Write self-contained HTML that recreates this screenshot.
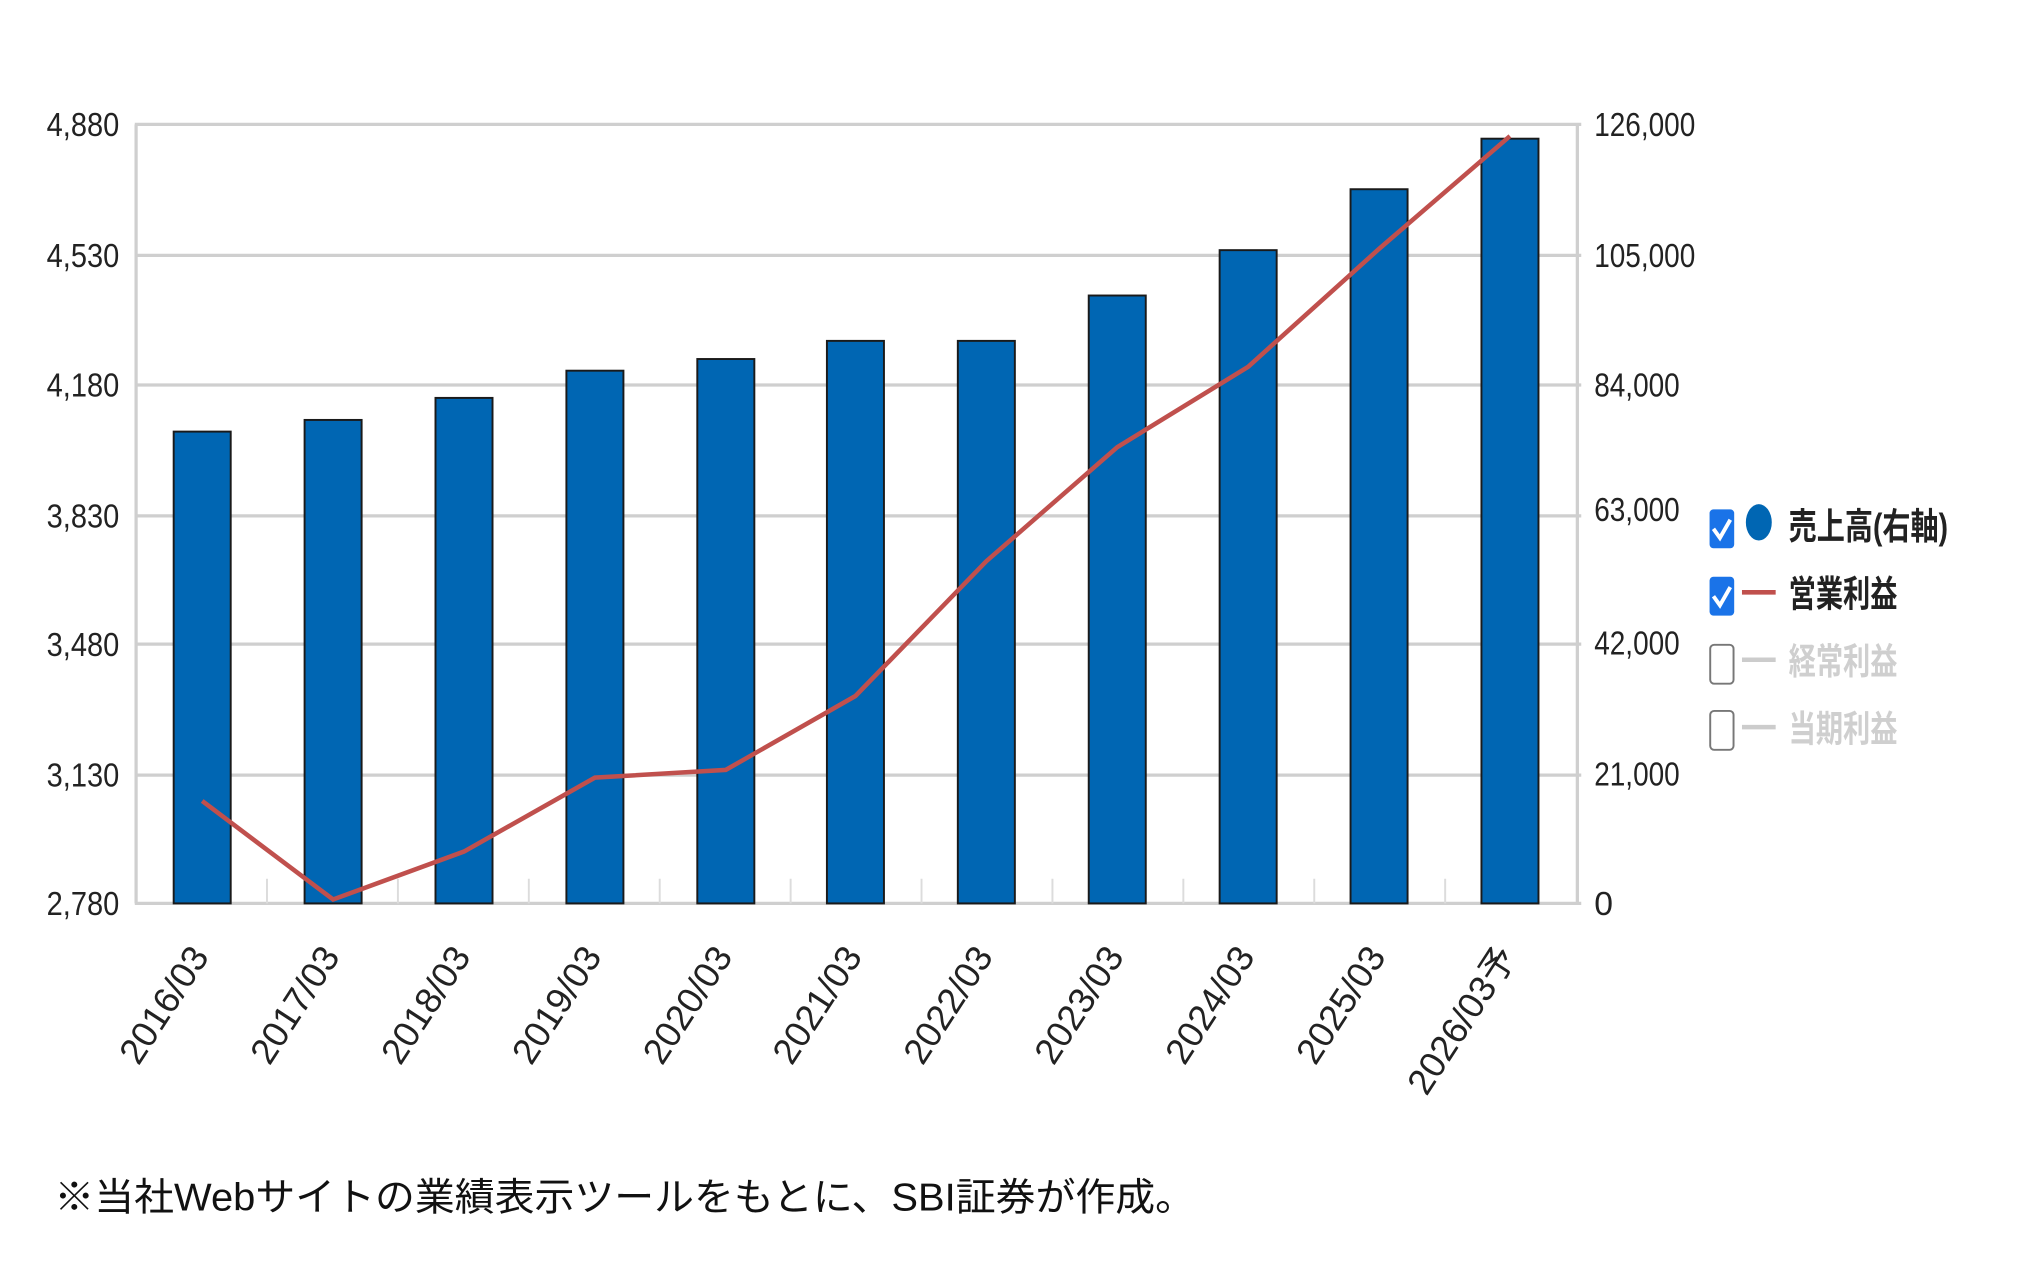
<!DOCTYPE html>
<html><head><meta charset="utf-8"><style>
html,body{margin:0;padding:0;background:#fff;}
svg{display:block;}
</style></head><body>
<svg width="2031" height="1265" viewBox="0 0 1567 976" preserveAspectRatio="none" xmlns="http://www.w3.org/2000/svg">
<g stroke="#cfcfcf" stroke-width="2.5">
<line x1="104" y1="96" x2="1220" y2="96"/>
<line x1="104" y1="197" x2="1220" y2="197"/>
<line x1="104" y1="297" x2="1220" y2="297"/>
<line x1="104" y1="398" x2="1220" y2="398"/>
<line x1="104" y1="497" x2="1220" y2="497"/>
<line x1="104" y1="598" x2="1220" y2="598"/>
<line x1="104" y1="697" x2="1220" y2="697"/>
<line x1="105" y1="96" x2="105" y2="697"/>
<line x1="1217" y1="96" x2="1217" y2="697"/>
</g>
<g stroke="#dcdcdc" stroke-width="1.5">
<line x1="206" y1="678" x2="206" y2="697"/><line x1="307" y1="678" x2="307" y2="697"/><line x1="408" y1="678" x2="408" y2="697"/><line x1="509" y1="678" x2="509" y2="697"/><line x1="610" y1="678" x2="610" y2="697"/><line x1="711" y1="678" x2="711" y2="697"/><line x1="812" y1="678" x2="812" y2="697"/><line x1="913" y1="678" x2="913" y2="697"/><line x1="1014" y1="678" x2="1014" y2="697"/><line x1="1115" y1="678" x2="1115" y2="697"/>
</g>
<g fill="#0066b3" stroke="#1a1a1a" stroke-width="1.5">
<rect x="134" y="333" width="44" height="364"/>
<rect x="235" y="324" width="44" height="373"/>
<rect x="336" y="307" width="44" height="390"/>
<rect x="437" y="286" width="44" height="411"/>
<rect x="538" y="277" width="44" height="420"/>
<rect x="638" y="263" width="44" height="434"/>
<rect x="739" y="263" width="44" height="434"/>
<rect x="840" y="228" width="44" height="469"/>
<rect x="941" y="193" width="44" height="504"/>
<rect x="1042" y="146" width="44" height="551"/>
<rect x="1143" y="107" width="44" height="590"/>
</g>
<polyline fill="none" stroke="#c0504d" stroke-width="3.5" points="156,618 257,694 358,657 459,600 560,594 660,537 761,433 862,345 963,283 1064,192 1165,105"/>
<g font-family="'Liberation Sans',sans-serif" font-size="26" fill="#222" text-anchor="end">
<text x="92" y="105" textLength="56" lengthAdjust="spacingAndGlyphs">4,880</text>
<text x="92" y="206" textLength="56" lengthAdjust="spacingAndGlyphs">4,530</text>
<text x="92" y="306" textLength="56" lengthAdjust="spacingAndGlyphs">4,180</text>
<text x="92" y="407" textLength="56" lengthAdjust="spacingAndGlyphs">3,830</text>
<text x="92" y="506" textLength="56" lengthAdjust="spacingAndGlyphs">3,480</text>
<text x="92" y="607" textLength="56" lengthAdjust="spacingAndGlyphs">3,130</text>
<text x="92" y="706" textLength="56" lengthAdjust="spacingAndGlyphs">2,780</text>
</g>
<g font-family="'Liberation Sans',sans-serif" font-size="26" fill="#222">
<text x="1230" y="105" textLength="78" lengthAdjust="spacingAndGlyphs">126,000</text>
<text x="1230" y="206" textLength="78" lengthAdjust="spacingAndGlyphs">105,000</text>
<text x="1230" y="306" textLength="66" lengthAdjust="spacingAndGlyphs">84,000</text>
<text x="1230" y="402" textLength="66" lengthAdjust="spacingAndGlyphs">63,000</text>
<text x="1230" y="505" textLength="66" lengthAdjust="spacingAndGlyphs">42,000</text>
<text x="1230" y="606" textLength="66" lengthAdjust="spacingAndGlyphs">21,000</text>
<text x="1230" y="706">0</text>
</g>
<g font-family="'Liberation Sans',sans-serif" font-size="28" fill="#222" text-anchor="end">
<text transform="translate(162,738) rotate(-57)">2016/03</text>
<text transform="translate(263,738) rotate(-57)">2017/03</text>
<text transform="translate(364,738) rotate(-57)">2018/03</text>
<text transform="translate(465,738) rotate(-57)">2019/03</text>
<text transform="translate(566,738) rotate(-57)">2020/03</text>
<text transform="translate(666,738) rotate(-57)">2021/03</text>
<text transform="translate(767,738) rotate(-57)">2022/03</text>
<text transform="translate(868,738) rotate(-57)">2023/03</text>
<text transform="translate(969,738) rotate(-57)">2024/03</text>
<text transform="translate(1070,738) rotate(-57)">2025/03</text>
<text transform="translate(1171,738) rotate(-57)" font-family="'Liberation Sans','Noto Sans CJK JP',sans-serif">2026/03予</text>
</g>
<g>
<rect x="1319" y="393" width="19" height="30" rx="3" fill="#1a73e8"/>
<path d="M1322 408 l5 7 l8 -14" fill="none" stroke="#fff" stroke-width="3"/>
<ellipse cx="1357" cy="403" rx="10" ry="14" fill="#0066b3"/>
<rect x="1319" y="445" width="19" height="30" rx="3" fill="#1a73e8"/>
<path d="M1322 460 l5 7 l8 -14" fill="none" stroke="#fff" stroke-width="3"/>
<line x1="1344" y1="457" x2="1370" y2="457" stroke="#c0504d" stroke-width="3.5"/>
<rect x="1319.5" y="497.5" width="18" height="30" rx="3" fill="#fff" stroke="#777" stroke-width="1.5"/>
<line x1="1344" y1="509" x2="1370" y2="509" stroke="#ccc" stroke-width="3.5"/>
<rect x="1319.5" y="548.5" width="18" height="30" rx="3" fill="#fff" stroke="#777" stroke-width="1.5"/>
<line x1="1344" y1="561" x2="1370" y2="561" stroke="#ccc" stroke-width="3.5"/>
</g>
<g font-family="'Liberation Sans','Noto Sans CJK JP',sans-serif" font-size="28" font-weight="bold">
<text x="1380" y="416" fill="#222" textLength="123" lengthAdjust="spacingAndGlyphs">売上高(右軸)</text>
<text x="1380" y="468" fill="#222" textLength="84" lengthAdjust="spacingAndGlyphs">営業利益</text>
<text x="1380" y="520" fill="#cfcfcf" textLength="84" lengthAdjust="spacingAndGlyphs">経常利益</text>
<text x="1380" y="572" fill="#cfcfcf" textLength="84" lengthAdjust="spacingAndGlyphs">当期利益</text>
</g>
<text x="42" y="934" font-family="'Liberation Sans','Noto Sans CJK JP',sans-serif" font-size="30" fill="#111" textLength="880" lengthAdjust="spacingAndGlyphs">※当社Webサイトの業績表示ツールをもとに、SBI証券が作成。</text>
</svg>
</body></html>
